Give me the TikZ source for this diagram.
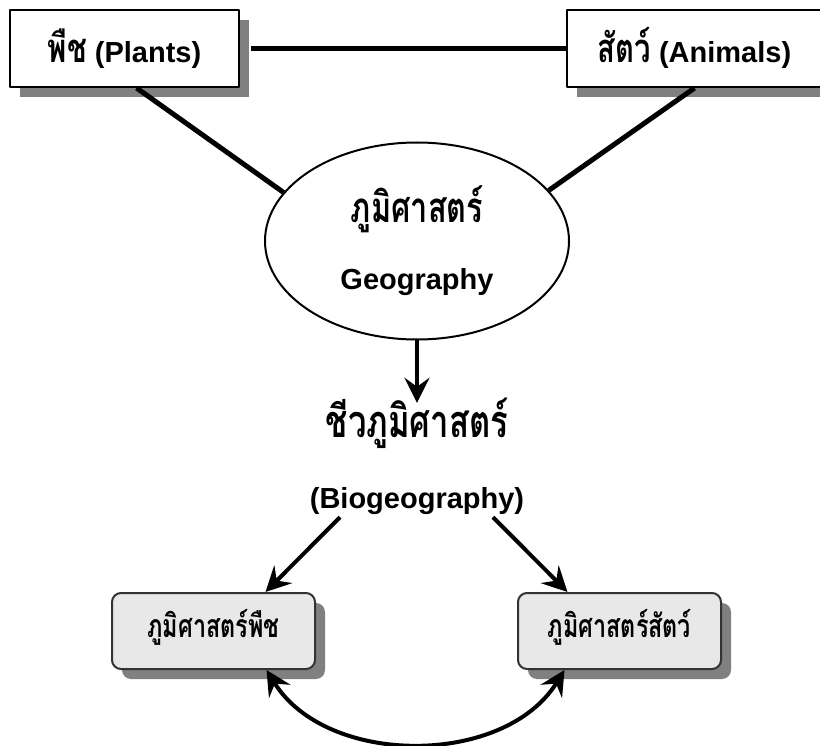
\documentclass[tikz,border=0pt]{standalone}
\usepackage{fontspec}
\setmainfont{Liberation Sans}
\newfontfamily\thaifont[Script=Thai,FakeStretch=0.73]{Loma}
\usetikzlibrary{arrows.meta,shapes.geometric,shadows}

\newcommand{\thbig}{\thaifont\fontsize{45}{50}\selectfont}

\begin{document}
\begin{tikzpicture}
[x=1pt,y=-1pt,line join=round]
\tikzset{
	topbox/.style = {rectangle, draw, line width=2pt, fill=white, minimum height=77pt, inner sep=0,
		text height=30pt, text depth=1pt, font=\fontsize{29}{33}\selectfont\bfseries,
		drop shadow={shadow xshift=10pt, shadow yshift=-10pt, fill=black!50, opacity=1}},
	subbox/.style = {rectangle, rounded corners=9pt, draw=black!80, line width=2pt, fill=black!9,
		minimum width=203pt, minimum height=76pt, inner sep=0, text height=17pt, text depth=5pt,
		font=\thaifont\fontsize{32}{36}\selectfont\bfseries,
		drop shadow={shadow xshift=10pt, shadow yshift=-10pt, fill=black!50, opacity=1}},
	label/.style = {anchor=base, inner sep=0, font=\fontsize{29}{33}\selectfont\bfseries},
	link/.style = {line width=5pt},
	arrow/.style = {line width=4pt, -{Stealth[length=25pt,width=25pt,inset=9pt]}}
}
\useasboundingbox (0,0) rectangle (820,746);
\clip (0,0) rectangle (820,746);

\node (plants) [topbox, minimum width=229pt] at (124.5,48.5) {{\thaifont\fontsize{40}{44}\selectfont พืช} (Plants)};
\node (animals) [topbox, minimum width=255pt] at (694.5,48.5) {{\thaifont\fontsize{40}{44}\selectfont สัตว์} (Animals)};

\node (geo) [ellipse, draw, line width=2pt, fill=white, minimum width=304pt, minimum height=197pt] at (417,241) {};
\node (geoth) [label, font=\thaifont\fontsize{42}{46}\selectfont\bfseries] at (417,223) {ภูมิศาสตร์};
\node (geoen) [label] at (417,290) {Geography};

\node (bioth) [label, text height=34pt, font=\thbig\bfseries] at (417,437) {ชีวภูมิศาสตร์};
\node (bioen) [label, text depth=9pt] at (417,508) {(Biogeography)};

\node (plantgeo) [subbox] at (213.5,631) {ภูมิศาสตร์พืช};
\node (animgeo) [subbox] at (619.5,631) {ภูมิศาสตร์สัตว์};

\draw [link] ([xshift=11pt]plants.east) -- (animals.west);
\draw [link] (plants.-73) -- (geo.160);
\draw [link] (animals.south) -- (geo.21);

\draw [arrow] (geo.south) -- (bioth.north);
\draw [arrow] ([xshift=-77pt]bioen.south) -- ([xshift=52pt]plantgeo.north);
\draw [arrow] ([xshift=76pt]bioen.south) -- ([xshift=-52pt]animgeo.north);
\draw [line width=4pt, {Stealth[length=25pt,width=25pt,inset=9pt]}-{Stealth[length=25pt,width=25pt,inset=9pt]}]
	([xshift=53pt]plantgeo.south) .. controls +(60,97) and +(-60,97) .. ([xshift=-55pt]animgeo.south);
\end{tikzpicture}
\end{document}
